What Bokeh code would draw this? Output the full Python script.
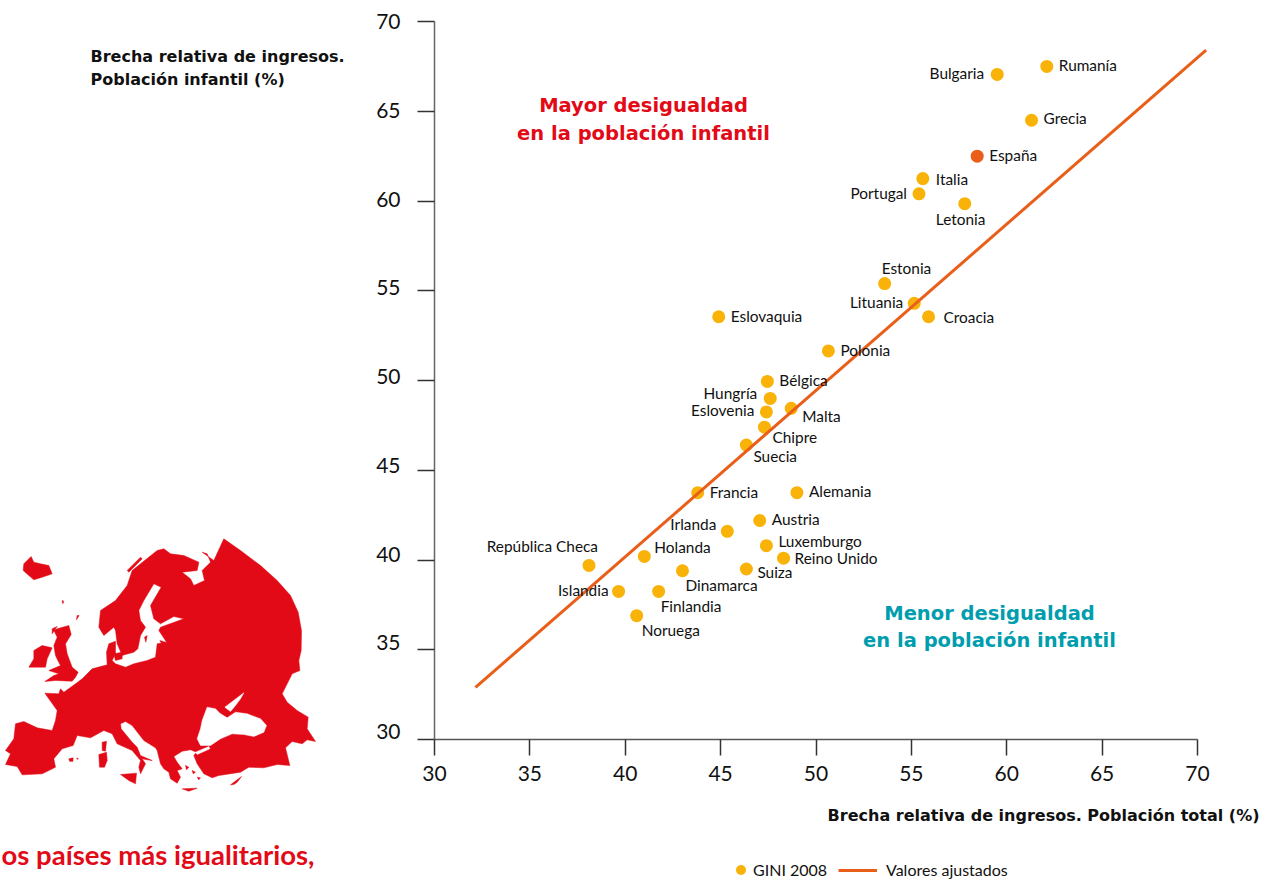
from bokeh.plotting import figure
from bokeh.models import Range1d, ColumnDataSource, LinearAxis, Legend, LegendItem, FixedTicker
from bokeh.core.properties import value
from bokeh.embed import file_html
from bokeh.resources import INLINE

countries = ["Rumanía","Bulgaria","Grecia","España","Italia","Portugal","Letonia","Estonia","Lituania","Croacia",
             "Eslovaquia","Polonia","Bélgica","Hungría","Eslovenia","Malta","Chipre","Suecia","Francia","Alemania",
             "Irlanda","Austria","Luxemburgo","Reino Unido","Holanda","República Checa","Suiza","Dinamarca",
             "Islandia","Finlandia","Noruega"]
total = [62.1,59.5,61.3,58.45,55.6,55.4,57.8,53.6,55.15,55.9,
         44.9,50.65,47.45,47.6,47.4,48.7,47.3,46.35,43.8,49.0,
         45.35,47.05,47.4,48.3,41.0,38.1,46.35,43.0,
         39.65,41.75,40.6]
child = [67.5,67.05,64.5,62.5,61.25,60.4,59.85,55.4,54.3,53.55,
         53.55,51.65,49.95,49.0,48.25,48.45,47.4,46.4,43.75,43.75,
         41.6,42.2,40.8,40.1,40.2,39.7,39.5,39.4,
         38.25,38.25,36.9]
fit_x = [32.15, 70.45]
fit_y = [32.9, 68.4]
ticks = [30,35,40,45,50,55,60,65,70]

# label placement: (dx px, dy px downward, align)
label_pos = {"Rumanía":(12,0,"left"),"Bulgaria":(-13,0,"right"),"Grecia":(12,-1,"left"),"España":(12,0,"left"),
 "Italia":(13,1,"left"),"Portugal":(-12,0,"right"),"Letonia":(-29,16,"left"),"Estonia":(-3,-15,"left"),
 "Lituania":(-11,0,"right"),"Croacia":(15,1,"left"),"Eslovaquia":(12,0,"left"),"Polonia":(12,0,"left"),
 "Bélgica":(12,0,"left"),"Hungría":(-13,-4,"right"),"Eslovenia":(-12,-1,"right"),"Malta":(11,9,"left"),
 "Chipre":(8,11,"left"),"Suecia":(7,12,"left"),"Francia":(12,0,"left"),"Alemania":(12,-1,"left"),
 "Irlanda":(-11,-6,"right"),"Austria":(12,-1,"left"),"Luxemburgo":(12,-4,"left"),"Reino Unido":(11,1,"left"),
 "Holanda":(10,-8,"left"),"República Checa":(9,-18,"right"),"Suiza":(11,4,"left"),"Dinamarca":(3,15,"left"),
 "Islandia":(-10,0,"right"),"Finlandia":(2,16,"left"),"Noruega":(5,15,"left")}

RED = "#E30A17"; TEAL = "#009DAE"; AMBER = "#F9B208"; ORANGE = "#E95F1A"; INK = "#111111"
W, H = 1269, 881
PX0, PX1, PY70, PY30 = 434, 1197, 21, 739
LY70, LY30 = 21, 731
sx = (PX1-PX0)/40; sy = (PY30-PY70)/40; sl = (LY30-LY70)/40

p = figure(width=W, height=H, output_backend="svg", toolbar_location=None,
           x_range=Range1d(30-PX0/sx, 30+(W-PX0)/sx), y_range=Range1d(30-(H-PY30)/sy, 70+PY70/sy),
           min_border=0, outline_line_color=None, x_axis_type=None, y_axis_type=None)
p.grid.visible = False
p.extra_x_ranges["px"] = Range1d(0, W)
p.extra_y_ranges["py"] = Range1d(H, 0)
# scale on which the y tick labels sit (the labels drift slightly from the ticks in the original)
p.extra_y_ranges["ylab"] = Range1d(30-(H-LY30)/sl, 70+LY70/sl)

axis_common = dict(ticker=FixedTicker(ticks=ticks), minor_tick_line_color=None, major_label_text_font="Lato",
                   major_label_text_font_size="21px", major_label_text_color=INK)
xax = LinearAxis(bounds=(30,70), fixed_location=30, axis_line_color="#555555", axis_line_width=1.5,
                 major_tick_line_color="#333333", major_tick_line_width=1.5, major_tick_in=0, major_tick_out=16,
                 major_label_standoff=10, **axis_common)
p.add_layout(xax, "below")
yax = LinearAxis(bounds=(30,70), fixed_location=30, axis_line_color="#666666", axis_line_width=1.5,
                 major_tick_line_color="#333333", major_tick_line_width=1.5, major_tick_in=0, major_tick_out=17,
                 major_label_text_color=None, ticker=FixedTicker(ticks=ticks), minor_tick_line_color=None)
p.add_layout(yax, "left")
ylab = LinearAxis(y_range_name="ylab", fixed_location=30, axis_line_color=None, major_tick_line_color=None,
                  major_tick_in=0, major_tick_out=0, major_label_standoff=34, **axis_common)
p.add_layout(ylab, "left")

# Europe silhouette (decorative, traced in page pixels x3, offset y 520)
eu_main = [(670,55),(720,90),(780,135),(830,180),(870,225),(893,275),(903,330),(902,390),(895,420),(898,450),(875,460),(860,490),
(845,520),(860,545),(890,570),(923,590),(920,625),(945,663),(920,658),(905,670),(875,663),(855,682),(868,735),(830,732),(790,742),
(745,740),(720,755),(655,765),(635,772),(610,760),(590,730),(580,705),(588,695),(570,688),(545,692),(520,708),(530,725),(545,745),
(530,750),(540,770),(530,788),(510,775),(505,755),(490,745),(480,730),(470,690),(465,682),(430,660),(395,615),(375,603),(360,610),
(362,625),(395,665),(410,680),(420,705),(455,720),(440,718),(425,715),(435,730),(420,760),(415,740),(420,720),(395,690),(350,670),
(335,640),(310,630),(270,652),(230,645),(218,675),(185,685),(160,715),(165,740),(125,760),(65,763),(50,738),(15,732),(30,700),
(15,690),(40,655),(45,610),(70,603),(110,622),(155,630),(165,600),(170,570),(145,535),(133,518),(175,520),(180,505),(190,515),
(225,490),(245,475),(275,445),(320,433),(318,395),(325,370),(345,362),(345,400),(335,420),(345,430),(375,440),(400,430),(440,420),
(465,410),(470,370),(498,365),(485,345),(475,330),(480,320),(550,295),(520,288),(480,310),(460,295),(450,255),(482,200),(460,190),
(430,240),(415,270),(420,300),(435,320),(420,345),(412,385),(400,395),(375,402),(365,405),(350,370),(345,330),(340,320),(310,345),
(295,320),(300,270),(345,240),(380,195),(395,150),(420,130),(470,90),(490,85),(510,100),(550,105),(595,125),(590,150),(545,155),
(570,175),(580,195),(612,180),(605,150),(630,125),(620,100),(605,95),(640,120)]
eu_islands = [
 [(70,130),(92,108),(100,125),(120,130),(145,135),(155,160),(125,170),(100,178),(85,165),(68,150)],
 [(160,330),(170,325),(205,315),(212,342),(195,370),(200,400),(215,440),(233,455),(225,470),(215,482),(165,480),(133,483),(160,465),(175,460),(145,450),(180,435),(172,420),(165,405),(160,375),(170,350)],
 [(100,390),(125,375),(155,382),(140,415),(135,440),(85,440),(100,415)],
 [(305,665),(318,662),(315,692),(305,690)],
 [(295,702),(318,695),(320,720),(312,740),(297,740)],
 [(360,762),(408,758),(405,790),(385,780)],
 [(545,805),(590,803),(565,812)],
 [(690,793),(723,768),(710,785),(700,792)],
 [(205,715),(218,712),(217,723),(207,722)],
 [(228,713),(233,713),(232,717)],
 [(340,400),(365,395),(365,415),(345,420)],
 [(380,150),(420,110),(425,115),(385,155)],
 [(230,285),(236,285),(228,298)],
 [(185,240),(190,242),(187,250)],
 [(155,325),(170,318),(155,340)],
 [(478,360),(495,365),(485,372)],
 [(432,350),(440,345),(436,365)],
 [(555,735),(565,740),(558,748)],
 [(575,750),(585,755),(578,760)],
 [(590,770),(600,772),(595,778)],
]
eu_seas = [
 [(590,655),(600,625),(605,600),(620,560),(645,565),(658,578),(680,592),(705,575),(740,580),(780,595),(798,615),(790,635),(760,648),(730,642),(695,640),(660,655),(630,675),(600,675)],
 [(730,517),(673,560),(690,573),(705,555),(720,535)],
 [(585,695),(625,678),(628,685),(590,702)],
]
def px(poly): return [a/3 for a,_ in poly]
def py(poly): return [520+b/3 for _,b in poly]
p.patches([px(g) for g in [eu_main]+eu_islands], [py(g) for g in [eu_main]+eu_islands], fill_color=RED, line_color=RED,
          line_width=0.5, x_range_name="px", y_range_name="py")
p.patches([px(g) for g in eu_seas], [py(g) for g in eu_seas], fill_color="white", line_color="white", line_width=0.5,
          x_range_name="px", y_range_name="py")

src = ColumnDataSource(dict(x=total, y=child, name=countries,
    color=[ORANGE if c=="España" else AMBER for c in countries],
    dx=[label_pos[c][0] for c in countries], dy=[label_pos[c][1]-1 for c in countries],
    al=[label_pos[c][2] for c in countries]))
pts = p.scatter("x","y",source=src,size=13,fill_color="color",line_color=None)
fit = p.line(fit_x, fit_y, line_color=ORANGE, line_width=3)
p.text("x","y",text="name",source=src,x_offset="dx",y_offset="dy",text_align="al",text_baseline="middle",
       text_font=value("Lato"),text_font_size="15.4px",text_color=INK)

def note(x,y,txt,color=INK,size="16px",align="left",font="DejaVu Sans",style="bold"):
    p.text([x],[y],text=[txt],x_range_name="px",y_range_name="py",text_align=align,text_baseline="middle",
           text_font=value(font),text_font_size=size,text_color=color,text_font_style=style)

note(90,56,"Brecha relativa de ingresos.")
note(90,79,"Población infantil (%)")
note(1259,815,"Brecha relativa de ingresos. Población total (%)",align="right")
note(643,105,"Mayor desigualdad",RED,"19.5px","center")
note(643,133,"en la población infantil",RED,"19.5px","center")
note(989,613,"Menor desigualdad",TEAL,"19.5px","center")
note(989,640,"en la población infantil",TEAL,"19.5px","center")
note(1,854,"os países más igualitarios,",RED,"27.5px","left","Lato","bold")

for item, loc, gw, gh, st in ((LegendItem(label="GINI 2008",renderers=[pts],index=0),(728,-1),25,25,0),
                              (LegendItem(label="Valores ajustados",renderers=[fit]),(838,2),39,14,9)):
    p.add_layout(Legend(items=[item],location=loc,background_fill_alpha=0,border_line_color=None,
                 label_text_font="Lato",label_text_font_size="16px",label_text_color=INK,
                 glyph_width=gw,glyph_height=gh,label_standoff=st,padding=0,margin=0),"center")

open("out.html","w").write(file_html(p,INLINE))
